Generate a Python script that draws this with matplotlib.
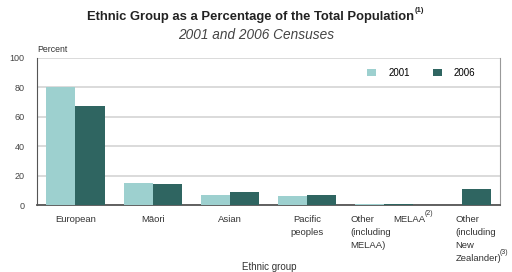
import numpy as np
import matplotlib
matplotlib.use("Agg")
import matplotlib.pyplot as plt

# Data (percent of total population)
groups = ["European", "Māori", "Asian", "Pacific peoples",
          "Other (including MELAA)", "Other (including New Zealander)"]
vals_2001 = [80.0, 14.7, 6.6, 6.5, 0.7, 0.0]
vals_2006 = [67.6, 14.6, 9.2, 6.9, 0.9, 11.1]
yticks = [0, 20, 40, 60, 80, 100]

c2001 = "#9dd0cf"
c2006 = "#2f6561"
txt = "#333333"

plt.rcParams['font.family'] = ['Liberation Sans', 'DejaVu Sans']

fig = plt.figure(figsize=(5.12, 2.72), dpi=100)
ax = fig.add_axes([0.072, 0.246, 0.905, 0.541])

x = np.arange(len(groups))
w = 0.377
ax.bar(x - w / 2, vals_2001, w, color=c2001, label="2001", zorder=3)
ax.bar(x + w / 2, vals_2006, w, color=c2006, label="2006", zorder=3)

ax.set_xlim(-0.5, len(groups) - 0.5)
ax.set_ylim(0, 100)
ax.set_yticks(yticks)
ax.set_yticklabels([str(t) for t in yticks], fontsize=6.5, color="#444444")
ax.tick_params(axis="y", length=0, pad=9)
ax.set_xticks([])
ax.grid(axis="y", color="#d4d4d4", linewidth=1.2, zorder=0)

ax.spines["top"].set_visible(False)
ax.spines["left"].set_color("#555555")
ax.spines["bottom"].set_color("#555555")
ax.spines["right"].set_color("#999999")
ax.spines["bottom"].set_linewidth(1.3)


def add_sup(t, s, size=5, dx=0.5, dy=2, **kw):
    # small raised note marker right after a text
    fig.canvas.draw()
    bb = t.get_window_extent()
    fig.text((bb.x1 + dx) / fig.bbox.width, (bb.y1 - dy) / fig.bbox.height, s,
             fontsize=size, ha="left", va="bottom", **kw)


def label(xpos, lines, ha="center", sup=None):
    # one text per line so the spacing matches the reference
    t = None
    for k, line in enumerate(lines):
        t = ax.annotate(line, xy=(xpos, 0), xycoords=ax.get_xaxis_transform(),
                        xytext=(0, -9.4 * (k + 1) - 1), textcoords="offset points",
                        ha=ha, va="center", fontsize=6.8, color=txt)
    if sup:
        add_sup(t, sup, dx=-1.5, color=txt)


label(x[0], ["European"])
label(x[1], ["Māori"])
label(x[2], ["Asian"])
label(x[3], ["Pacific", "peoples"])
label(x[4] - 0.44, ["Other", "(including", "MELAA)"], ha="left")
label(x[4] + 0.12, ["MELAA"], ha="left", sup="(2)")
label(x[5] - 0.08, ["Other", "(including", "New", "Zealander)"], ha="left", sup="(3)")

ax.legend(loc="center left", bbox_to_anchor=(0.713, 0.898), ncol=2, frameon=False,
          fontsize=7, handlelength=0.95, handleheight=0.6, handletextpad=1.2,
          columnspacing=2.4, borderpad=0, borderaxespad=0)

ttl = fig.text(0.49, 0.925, "Ethnic Group as a Percentage of the Total Population",
               ha="center", fontsize=9.4, fontweight="bold", color="#222222")
add_sup(ttl, "(1)", size=5.5, dy=3, fontweight="bold", color="#222222")
fig.text(0.5, 0.855, "2001 and 2006 Censuses", ha="center", fontsize=9.8,
         style="italic", color="#444444")
fig.text(0.073, 0.808, "Percent", ha="left", fontsize=6.3, color=txt)
fig.text(0.525, 0.006, "Ethnic group", ha="center", fontsize=7, color=txt)

fig.savefig("out.png", dpi=100)
